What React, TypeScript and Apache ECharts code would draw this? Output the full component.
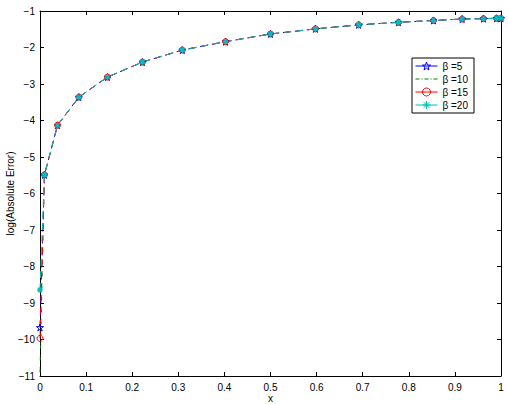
import React, { useEffect, useRef } from "react";
import * as echarts from "echarts";

const xs = [0, 0.0096, 0.038, 0.0843, 0.1464, 0.2222, 0.3087, 0.4025, 0.5, 0.5975, 0.6913, 0.7778, 0.8536, 0.9157, 0.9619, 0.9904, 1];
const beta5 = [-9.67, -5.49, -4.13, -3.36, -2.81, -2.4, -2.07, -1.84, -1.63, -1.49, -1.38, -1.31, -1.26, -1.22, -1.21, -1.2, -1.2];
const beta10 = [-10.9, -5.49, -4.13, -3.36, -2.81, -2.4, -2.07, -1.84, -1.63, -1.49, -1.38, -1.31, -1.26, -1.22, -1.21, -1.2, -1.2];
const beta15 = [-9.97, -5.49, -4.13, -3.36, -2.81, -2.4, -2.07, -1.84, -1.63, -1.49, -1.38, -1.31, -1.26, -1.22, -1.21, -1.2, -1.2];
const beta20 = [-8.64, -5.49, -4.13, -3.36, -2.81, -2.4, -2.07, -1.84, -1.63, -1.49, -1.38, -1.31, -1.26, -1.22, -1.21, -1.2, -1.2];
const seriesNames = ["β =5", "β =10", "β =15", "β =20"];
const xTickLabels = ["0", "0.1", "0.2", "0.3", "0.4", "0.5", "0.6", "0.7", "0.8", "0.9", "1"];

const STAR = "path://M0,-10L2.35,-3.24L9.51,-3.09L3.8,1.24L5.88,8.09L0,4L-5.88,8.09L-3.8,1.24L-9.51,-3.09L-2.35,-3.24Z";
const ASTER = "path://M0,-10L0,10M-10,0L10,0M-7,-7L7,7M-7,7L7,-7";

const FONT = "Liberation Sans, Arial, Helvetica, sans-serif";

const pairs = (ys: number[]) => xs.map((x, i) => [x, ys[i]]);

export default function App() {
  const ref = useRef<HTMLDivElement>(null);
  useEffect(() => {
    if (!ref.current) return;
    const chart = echarts.init(ref.current, undefined, { renderer: "svg" });
    const fmtY = (v: number) => (v < 0 ? "\u2212" + Math.abs(v) : String(v));
    const fmtX = (v: number) => {
      const i = Math.round(v * 10);
      return xTickLabels[i] ?? String(v);
    };
    const axisCommon = {
      axisLine: { show: true, onZero: false, lineStyle: { color: "#000", width: 1 } },
      axisTick: { show: true, inside: true, length: 4, lineStyle: { color: "#000" } },
      splitLine: { show: false },
    };
    const blue = "#0000ff";
    const green = "#008000";
    const red = "#ff0000";
    const cyan = "#00bfbf";
    const clear = "rgba(0,0,0,0)";
    chart.setOption({
      animation: false,
      backgroundColor: "#fff",
      textStyle: { fontFamily: FONT },
      grid: { left: 40, right: 7, top: 11, bottom: 28, containLabel: false, outerBoundsMode: "none" },
      legend: {
        orient: "vertical",
        left: 412,
        top: 58,
        backgroundColor: "#fff",
        borderColor: "#000",
        borderWidth: 1,
        padding: [3, 6, 3, 3],
        itemWidth: 22,
        itemHeight: 10,
        itemGap: 3,
        textStyle: { fontSize: 10, color: "#000", fontFamily: FONT },
        data: [
          { name: seriesNames[0], itemStyle: { color: clear, borderColor: blue, borderWidth: 1 }, lineStyle: { color: blue, type: "solid", width: 1 } },
          { name: seriesNames[1], itemStyle: { color: clear, borderColor: clear, borderWidth: 0 }, lineStyle: { color: green, type: [4, 2, 1, 2], width: 1 } },
          { name: seriesNames[2], itemStyle: { color: clear, borderColor: red, borderWidth: 1 }, lineStyle: { color: red, type: "solid", width: 1 } },
          { name: seriesNames[3], itemStyle: { color: clear, borderColor: cyan, borderWidth: 1 }, lineStyle: { color: cyan, type: "solid", width: 1 } },
        ],
      },
      xAxis: [
        {
          type: "value",
          min: 0,
          max: 1,
          interval: 0.1,
          position: "bottom",
          name: "x",
          nameLocation: "middle",
          nameGap: 17,
          nameMoveOverlap: false,
          nameTextStyle: { fontSize: 10, color: "#000", fontFamily: FONT },
          axisLabel: { fontSize: 10, color: "#000", margin: 6, formatter: fmtX, fontFamily: FONT },
          ...axisCommon,
        },
        {
          type: "value",
          min: 0,
          max: 1,
          interval: 0.1,
          position: "top",
          axisLabel: { show: false },
          ...axisCommon,
        },
      ],
      yAxis: [
        {
          type: "value",
          min: -11,
          max: -1,
          interval: 1,
          position: "left",
          name: "log(Absolute Error)",
          nameLocation: "middle",
          nameGap: 25,
          nameMoveOverlap: false,
          nameTextStyle: { fontSize: 10, color: "#000", fontFamily: FONT },
          axisLabel: { fontSize: 10, color: "#000", margin: 5, formatter: fmtY, fontFamily: FONT },
          ...axisCommon,
        },
        {
          type: "value",
          min: -11,
          max: -1,
          interval: 1,
          position: "right",
          axisLabel: { show: false },
          ...axisCommon,
        },
      ],
      series: [
        {
          name: seriesNames[0],
          type: "line",
          data: pairs(beta5),
          color: blue,
          symbol: STAR,
          symbolSize: 7,
          showAllSymbol: true,
          lineStyle: { color: blue, width: 1, type: [7, 5] },
          itemStyle: { color: clear, borderColor: blue, borderWidth: 1 },
        },
        {
          name: seriesNames[1],
          type: "line",
          data: pairs(beta10),
          color: green,
          symbol: "none",
          lineStyle: { color: green, width: 1, type: [3, 1, 1, 7] },
          itemStyle: { color: green },
        },
        {
          name: seriesNames[2],
          type: "line",
          data: pairs(beta15),
          color: red,
          symbol: "circle",
          symbolSize: 6,
          showAllSymbol: true,
          lineStyle: { color: red, width: 1, type: [7, 5] },
          itemStyle: { color: clear, borderColor: red, borderWidth: 1 },
        },
        {
          name: seriesNames[3],
          type: "line",
          data: pairs(beta20),
          color: cyan,
          symbol: ASTER,
          symbolSize: 6,
          showAllSymbol: true,
          lineStyle: { color: cyan, width: 1, type: [7, 5] },
          itemStyle: { color: clear, borderColor: cyan, borderWidth: 1.2 },
        },
      ],
    });
    return () => chart.dispose();
  }, []);
  return <div ref={ref} style={{ width: 508, height: 404, position: "absolute", left: 0, top: 0 }} />;
}
